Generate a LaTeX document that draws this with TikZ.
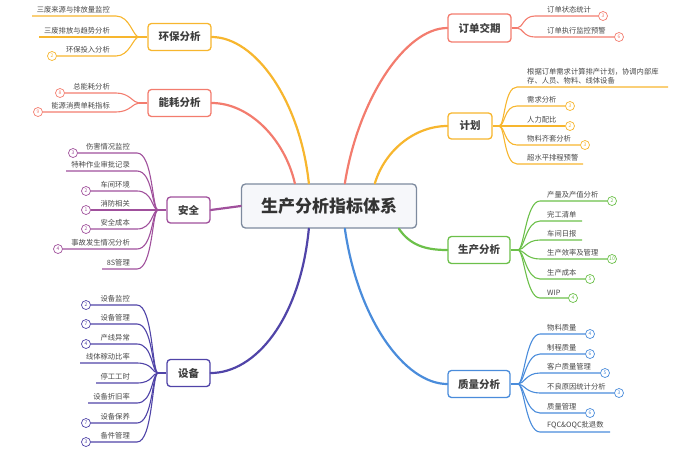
\documentclass[tikz,border=0pt]{standalone}
\usepackage{fontspec}
\newfontfamily\cjk{Noto Sans CJK SC}
\definecolor{huan}{RGB}{247,182,46}
\definecolor{neng}{RGB}{243,124,110}
\definecolor{anq}{RGB}{160,80,156}
\definecolor{shebei}{RGB}{80,68,168}
\definecolor{shengc}{RGB}{108,192,74}
\definecolor{zhil}{RGB}{74,140,219}
\definecolor{hub}{RGB}{125,138,158}
\definecolor{hubfill}{RGB}{246,247,250}
\tikzset{
  leaf/.style={font=\cjk\fontsize{7.3}{9}\selectfont,text=black!72,inner sep=1pt},
  badge/.style={circle,draw=#1,fill=white,text=#1,line width=.7pt,minimum size=9pt,inner sep=0pt,font=\cjk\fontsize{5}{5}\selectfont},
  branch/.style={draw=#1,fill=white,rounded corners=3.5pt,line width=1.3pt,font=\cjk\bfseries\fontsize{10.5}{12}\selectfont,text=black!75,minimum height=27pt,inner sep=0pt},
  twig/.style={draw=#1,line width=1.1pt},
  limb/.style={draw=#1,line width=2.2pt},
}
\begin{document}
\begin{tikzpicture}[x=1pt,y=-1pt]
    \useasboundingbox (0,0) rectangle (693,467);
    \node[draw=hub,fill=hubfill,rounded corners=4pt,line width=1.3pt,minimum width=175pt,minimum height=44pt,
      font=\cjk\bfseries\fontsize{17}{20}\selectfont,text=black!80] (root) at (329,206) {生产分析指标体系};
    \node[branch=huan,minimum width=63pt] (hb) at (179.5,37) {环保分析};
    \node[branch=neng,minimum width=63pt] (nh) at (179.5,103) {能耗分析};
    \node[branch=anq,minimum width=43pt,minimum height=26pt] (aq) at (188.5,210) {安全};
    \node[branch=shebei,minimum width=43pt] (sb) at (188.5,373) {设备};
    \node[branch=neng,minimum width=63pt,minimum height=28pt] (dd) at (479.5,28) {订单交期};
    \node[branch=huan,minimum width=44pt,minimum height=26pt] (jh) at (470,126) {计划};
    \node[branch=shengc,minimum width=62pt] (sc) at (479,250) {生产分析};
    \node[branch=zhil,minimum width=62pt] (zl) at (479,384) {质量分析};
    \begin{scope}[line cap=round]
      \draw[limb=huan] ([xshift=68pt]root.north west) .. controls (300,100) and (255,37) .. (hb.east);
      \draw[limb=neng] ([xshift=54pt]root.north west) .. controls (285,140) and (250,103) .. (nh.east);
      \draw[limb=neng] ([xshift=104pt]root.north west) .. controls (358,100) and (405,28) .. (dd.west);
      \draw[limb=huan] ([xshift=134pt]root.north west) .. controls (385,150) and (415,126) .. (jh.west);
      \draw[limb=shengc] ([xshift=158pt]root.south west) .. controls (410,245) and (425,250) .. (sc.west);
      \draw[limb=shebei] ([xshift=68pt]root.south west) .. controls (300,320) and (255,373) .. (sb.east);
      \draw[limb=zhil] ([xshift=104pt]root.south west) .. controls (358,320) and (405,384) .. (zl.west);
      \draw[limb=anq] (root.west) -- (aq.east);
    \end{scope}
    % left side
    \coordinate (hbj) at (139,37);
    \draw[twig=huan] (hb.west) -- (hbj);
    \foreach \y/\t/\s/\k [count=\i] in {16/三废来源与排放量监控/32/0,37/三废排放与趋势分析/39/0,56/环保投入分析/52/2}{
      \node[leaf,anchor=south east] (hb\i) at (111,\y-1.5) {\t};
      \ifnum\k>0 \node[badge=huan] (hbb\i) at (\s,\y) {\k}; \else \coordinate (hbb\i) at (\s,\y); \fi
      \draw[twig=huan] (hbb\i) -- (116,\y) .. controls +(14,0) and +(-6,0) .. (hbj);
    }
    \coordinate (nhj) at (139,103);
    \draw[twig=neng] (nh.west) -- (nhj);
    \foreach \y/\t/\s/\k [count=\i] in {93/总能耗分析/60/8,112/能源消费单耗指标/38/9}{
      \node[leaf,anchor=south east] (nh\i) at (111,\y-1.5) {\t};
      \node[badge=neng] (nhb\i) at (\s,\y) {\k};
      \draw[twig=neng] (nhb\i) -- (116,\y) .. controls +(14,0) and +(-6,0) .. (nhj);
    }
    \coordinate (aqj) at (158,210);
    \draw[twig=anq] (aq.west) -- (aqj);
    \foreach \y/\t/\s/\k [count=\i] in {153/伤害情况监控/73/3,171/特种作业审批记录/66/0,191/车间环境/86/2,
        210/消防相关/86/1,229/安全成本/86/2,249/事故发生情况分析/58/4,269/8S管理/102/0}{
      \node[leaf,anchor=south east] (aq\i) at (131,\y-1.5) {\t};
      \ifnum\k>0 \node[badge=anq] (aqb\i) at (\s,\y) {\k}; \else \coordinate (aqb\i) at (\s,\y); \fi
      \draw[twig=anq] (aqb\i) -- (137,\y) .. controls +(16,0) and +(-6,0) .. (aqj);
    }
    \coordinate (sbj) at (158,373);
    \draw[twig=shebei] (sb.west) -- (sbj);
    \foreach \y/\t/\s/\k [count=\i] in {305/设备监控/86/2,324/设备管理/86/7,344/产线异常/86/4,363/线体稼动比率/80/0,
        383/停工工时/96/0,403/设备折旧率/88/0,423/设备保养/86/7,442/备件管理/86/3}{
      \node[leaf,anchor=south east] (sb\i) at (131,\y-1.5) {\t};
      \ifnum\k>0 \node[badge=shebei] (sbb\i) at (\s,\y) {\k}; \else \coordinate (sbb\i) at (\s,\y); \fi
      \draw[twig=shebei] (sbb\i) -- (137,\y) .. controls +(16,0) and +(-6,0) .. (sbj);
    }
    % right side
    \coordinate (ddj) at (517,28);
    \draw[twig=neng] (dd.east) -- (ddj);
    \foreach \y/\t/\e/\k [count=\i] in {16/订单状态统计/603/3,37/订单执行监控预警/619/6}{
      \node[leaf,anchor=south west] (dd\i) at (546,\y-1.5) {\t};
      \node[badge=neng] (ddb\i) at (\e,\y) {\k};
      \draw[twig=neng] (ddj) .. controls +(6,0) and +(-12,0) .. (535,\y) -- (ddb\i);
    }
    \coordinate (jhj) at (499,126);
    \draw[twig=huan] (jh.east) -- (jhj);
    \node[leaf,anchor=south west,align=left] (jh0) at (526,85.5) {根据订单需求计算排产计划，协调内部库\\存、人员、物料、线体设备};
    \foreach \y/\t/\e/\k [count=\i] in {87//668/0,106/需求分析/570/3,126/人力配比/570/2,145/物料齐套分析/585/3,164/超水平排程预警/583/0}{
      \node[leaf,anchor=south west] (jh\i) at (526,\y-1.5) {\t};
      \ifnum\k>0 \node[badge=huan] (jhb\i) at (\e,\y) {\k}; \else \coordinate (jhb\i) at (\e,\y); \fi
      \draw[twig=huan] (jhj) .. controls +(6,0) and +(-13,0) .. (517,\y) -- (jhb\i);
    }
    \coordinate (scj) at (518,250);
    \draw[twig=shengc] (sc.east) -- (scj);
    \foreach \y/\t/\e/\k [count=\i] in {201/产量及产值分析/612/2,221/完工清单/582/0,240/车间日报/582/0,
        259/生产效率及管理/612/10,279/生产成本/590/5,298/WIP/573/4}{
      \node[leaf,anchor=south west] (sc\i) at (546,\y-1.5) {\t};
      \ifnum\k>0 \node[badge=shengc] (scb\i) at (\e,\y) {\k}; \else \coordinate (scb\i) at (\e,\y); \fi
      \draw[twig=shengc] (scj) .. controls +(6,0) and +(-14,0) .. (540,\y) -- (scb\i);
    }
    \coordinate (zlj) at (518,384);
    \draw[twig=zhil] (zl.east) -- (zlj);
    \foreach \y/\t/\e/\k [count=\i] in {334/物料质量/590/4,354/制程质量/590/6,373/客户质量管理/605/5,
        393/不良原因统计分析/619/3,413/质量管理/590/6,432/FQC\&OQC批退数/610/0}{
      \node[leaf,anchor=south west] (zl\i) at (546,\y-1.5) {\t};
      \ifnum\k>0 \node[badge=zhil] (zlb\i) at (\e,\y) {\k}; \else \coordinate (zlb\i) at (\e,\y); \fi
      \draw[twig=zhil] (zlj) .. controls +(6,0) and +(-14,0) .. (540,\y) -- (zlb\i);
    }
\end{tikzpicture}
\end{document}
